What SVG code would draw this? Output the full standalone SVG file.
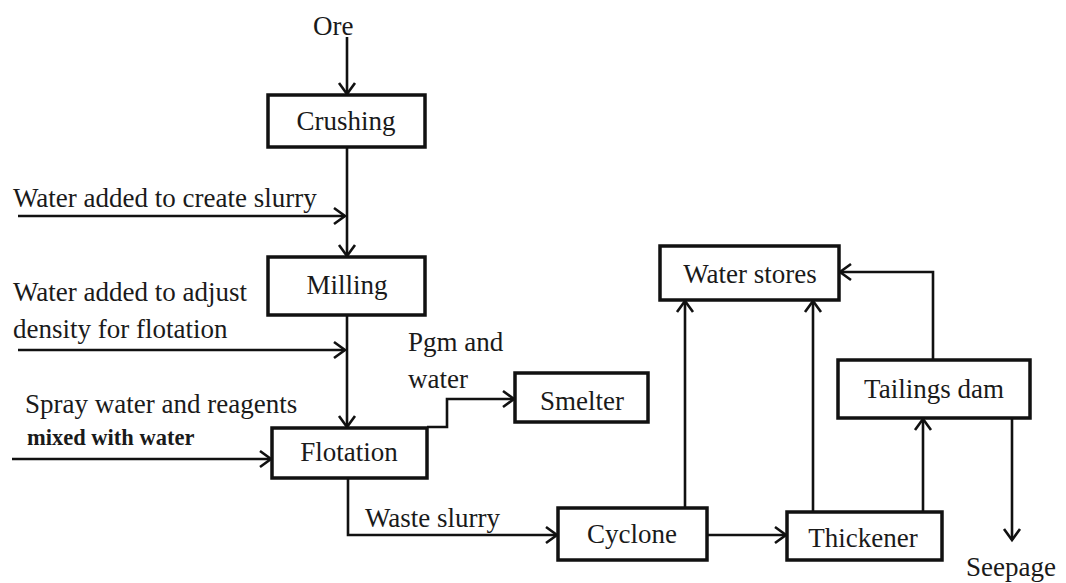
<svg xmlns="http://www.w3.org/2000/svg" width="1066" height="583" viewBox="0 0 1066 583">
<defs>
<marker id="arr" markerUnits="userSpaceOnUse" markerWidth="16" markerHeight="20" refX="13" refY="10" orient="auto">
<path d="M2,2 L13,10 L2,18" fill="none" stroke="#111" stroke-width="2.6"/>
</marker>
<style>
.box{fill:#fff;stroke:#111;stroke-width:3.5}
.lbl{font-family:'Liberation Serif','Times New Roman',serif;font-size:27px;fill:#1a1a1a}
.c{text-anchor:middle}
.ln{fill:none;stroke:#111;stroke-width:2.6;marker-end:url(#arr)}
.b{font-weight:bold;font-size:22.5px}
</style>
</defs>
<rect width="1066" height="583" fill="#fff"/>
<g id="connectors">
<path class="ln" d="M347,37 V94"/>
<path class="ln" d="M347,147 V256"/>
<path class="ln" d="M18,216 H345"/>
<path class="ln" d="M347,315 V427"/>
<path class="ln" d="M18,350 H345"/>
<path class="ln" d="M12,459 H271"/>
<path class="ln" d="M427,427 H447 V399 H514"/>
<path class="ln" d="M348,478 V535 H557"/>
<path class="ln" d="M707,535 H786"/>
<path class="ln" d="M685,508 V301"/>
<path class="ln" d="M813,512 V301"/>
<path class="ln" d="M923,512 V419"/>
<path class="ln" d="M933,361 V272 H840"/>
<path class="ln" d="M1012,418 V540"/>
</g>
<g id="labels">
<text class="lbl" x="313" y="35">Ore</text>
<text class="lbl" x="13" y="207">Water added to create slurry</text>
<text class="lbl" x="13" y="301">Water added to adjust</text>
<text class="lbl" x="13" y="338">density for flotation</text>
<text class="lbl" x="408" y="351">Pgm and</text>
<text class="lbl" x="408" y="388">water</text>
<text class="lbl" x="25" y="413">Spray water and reagents</text>
<text class="lbl b" x="27" y="445">mixed with water</text>
<text class="lbl" x="365" y="527">Waste slurry</text>
<text class="lbl c" x="1011" y="576">Seepage</text>
</g>
<g id="crushing"><rect class="box" x="268" y="95" width="157" height="52"/><text class="lbl c" x="346" y="130">Crushing</text></g>
<g id="milling"><rect class="box" x="268" y="257" width="157" height="58"/><text class="lbl c" x="347" y="294">Milling</text></g>
<g id="flotation"><rect class="box" x="272" y="428" width="155" height="50"/><text class="lbl c" x="349" y="461">Flotation</text></g>
<g id="smelter"><rect class="box" x="515" y="373" width="133" height="49"/><text class="lbl c" x="582" y="410">Smelter</text></g>
<g id="cyclone"><rect class="box" x="558" y="508" width="149" height="52"/><text class="lbl c" x="632" y="543">Cyclone</text></g>
<g id="thickener"><rect class="box" x="787" y="512" width="155" height="48"/><text class="lbl c" x="863" y="547">Thickener</text></g>
<g id="water-stores"><rect class="box" x="660" y="246" width="179" height="54"/><text class="lbl c" x="750" y="283">Water stores</text></g>
<g id="tailings-dam"><rect class="box" x="838" y="360" width="192" height="58"/><text class="lbl c" x="934" y="398">Tailings dam</text></g>
</svg>
